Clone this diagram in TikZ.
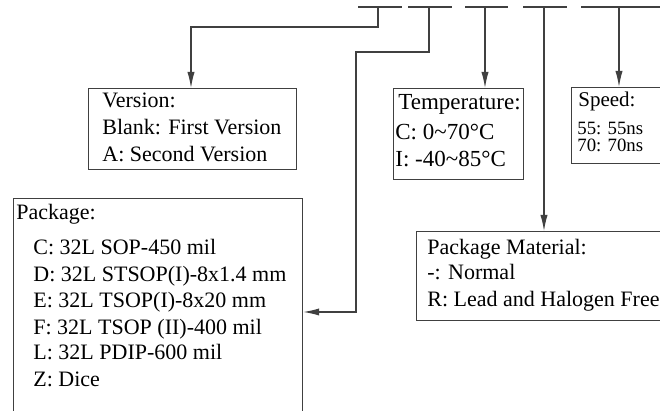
\documentclass[tikz,border=0pt]{standalone}
\usepackage{fontspec}
\setmainfont{Liberation Serif}
\usetikzlibrary{arrows.meta}
\begin{document}
\begin{tikzpicture}[x=0.5pt,y=-0.5pt,
 ln/.style={draw=black!75, line width=0.6pt},
 arr/.style={ln, -{Latex[length=8pt,width=3.6pt]}},
 box/.style={draw=black!75, line width=0.6pt, rectangle, inner sep=0pt, anchor=north west},
 txt/.style={anchor=base west, inner sep=0pt, font=\fontsize{11}{13}\selectfont},
 ttxt/.style={txt, font=\fontsize{11.5}{13}\selectfont},
 stxt/.style={txt, font=\fontsize{9.4}{8.5}\selectfont, align=left},
]
\clip (0,0) rectangle (660,411);
% top dashes
\draw[ln] (358,7) -- (402,7);
\draw[ln] (408,7) -- (452,7);
\draw[ln] (465,7) -- (508,7);
\draw[ln] (523,7) -- (567,7);
\draw[ln] (581,7) -- (660,7);
\coordinate (t1) at (378,7);
\coordinate (t2) at (429,7);
\coordinate (t3) at (485,7);
\coordinate (t4) at (544,7);
\coordinate (t5) at (619,7);
% boxes
\node[box, minimum width=104pt, minimum height=40.5pt] (ver) at (88,88) {};
\node[box, minimum width=65pt, minimum height=45.5pt] (tmp) at (393,88) {};
\node[box, minimum width=64.5pt, minimum height=38pt] (spd) at (571,87) {};
\node[box, minimum width=144.5pt, minimum height=126pt] (pkg) at (13,198) {};
\node[box, minimum width=142pt, minimum height=44.5pt] (pm) at (416,231) {};
% texts
\node[txt] (v0) at (102,108) {Version:};
\node[txt] (v1) at (102,135) {Blank: First Version};
\node[txt] (v2) at (102,162) {A: Second Version};
\node[ttxt] (tm0) at (398,110) {Temperature:};
\node[ttxt] (tm1) at (395,140) {C: 0\char"007E 70°C};
\node[ttxt] (tm2) at (395,167) {I: -40\char"007E 85°C};
\node[txt, font=\fontsize{10.5}{12}\selectfont] (s0) at (578,107) {Speed:};
\node[stxt] (s1) at (577,152) {55: 55ns\\70: 70ns};
\node[txt] (p0) at (16,220) {Package:};
\node[txt] (p1) at (33,255) {C: 32L SOP-450 mil};
\node[txt] (p2) at (33,282) {D: 32L STSOP(I)-8x1.4 mm};
\node[txt] (p3) at (33,308) {E: 32L TSOP(I)-8x20 mm};
\node[txt] (p4) at (33,335) {F: 32L TSOP (II)-400 mil};
\node[txt] (p5) at (33,360) {L: 32L PDIP-600 mil};
\node[txt] (p6) at (33,387) {Z: Dice};
\node[txt] (m0) at (427,255) {Package Material:};
\node[txt] (m1) at (427,280) {-: Normal};
\node[txt] (m2) at (427,307) {R: Lead and Halogen Free};
% connectors
\coordinate (va) at (191,27);
\draw[arr] (t1) |- (va) -- (va |- ver.north);
\coordinate (pa) at (356,52);
\coordinate (pb) at (356,312);
\draw[arr] (t2) |- (pa) -- (pb) -- (pb -| pkg.east);
\draw[arr] (t3) -- (t3 |- tmp.north);
\draw[arr] (t4) -- (t4 |- pm.north);
\draw[arr] (t5) -- (t5 |- spd.north);
\end{tikzpicture}
\end{document}
